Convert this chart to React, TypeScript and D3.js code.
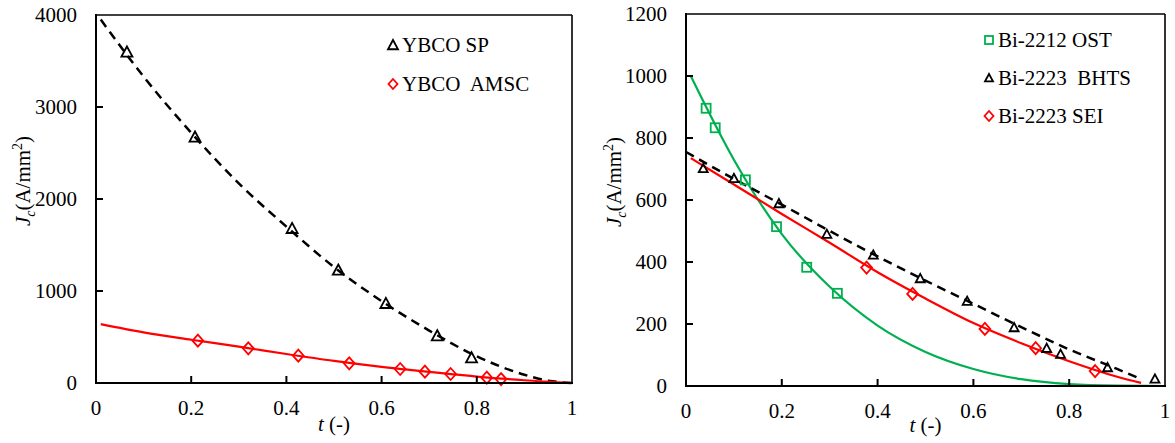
import React from "react";
import * as d3 from "d3";

// ---------- Data ----------
// Left panel: YBCO
const spT = [0.065, 0.208, 0.412, 0.509, 0.609, 0.717, 0.789];
const spJ = [3598, 2674, 1681, 1228, 866, 514, 275];
const spFitT = [0.01, 0.1, 0.2, 0.3, 0.4, 0.5, 0.6, 0.7, 0.8, 0.9, 0.95, 1.0];
const spFitJ = [3950, 3330, 2720, 2170, 1700, 1260, 890, 570, 290, 90, 25, 0];

const amscT = [0.214, 0.32, 0.425, 0.532, 0.639, 0.691, 0.745, 0.821, 0.851];
const amscJ = [460, 377, 297, 214, 152, 123, 98, 58, 43];
const amscFitT = [0.01, 0.1, 0.2, 0.3, 0.4, 0.5, 0.6, 0.7, 0.8, 0.9, 1.0];
const amscFitJ = [640, 550, 470, 395, 315, 240, 175, 120, 70, 30, 0];

// Right panel: Bi-2212 / Bi-2223
const ostT = [0.042, 0.061, 0.124, 0.189, 0.252, 0.316];
const ostJ = [896, 833, 665, 514, 383, 299];
const ostFitT = [0.01, 0.1, 0.2, 0.3, 0.4, 0.5, 0.6, 0.7, 0.8, 0.9, 1.0];
const ostFitJ = [1000, 730, 490, 320, 195, 110, 55, 22, 6, 1, 0];

const bhtsT = [0.036, 0.1, 0.194, 0.294, 0.391, 0.489, 0.587, 0.685, 0.753, 0.782, 0.88, 0.979];
const bhtsJ = [702, 670, 589, 490, 423, 347, 274, 189, 122, 103, 60, 23];
const bhtsFitT = [0.0, 0.1, 0.2, 0.3, 0.4, 0.5, 0.6, 0.7, 0.8, 0.9, 0.95];
const bhtsFitJ = [755, 668, 585, 500, 418, 340, 265, 190, 118, 55, 22];

const seiT = [0.377, 0.473, 0.624, 0.73, 0.854];
const seiJ = [382, 297, 184, 122, 48];
const seiFitT = [0.01, 0.1, 0.2, 0.3, 0.4, 0.5, 0.6, 0.7, 0.8, 0.9, 0.95];
const seiFitJ = [735, 650, 555, 462, 367, 282, 203, 138, 80, 30, 10];

const xTicks = [0, 0.2, 0.4, 0.6, 0.8, 1];
const xTickLabels = ["0", "0.2", "0.4", "0.6", "0.8", "1"];
const leftYTicks = [0, 1000, 2000, 3000, 4000];
const rightYTicks = [0, 200, 400, 600, 800, 1000, 1200];

const leftLegend = ["YBCO SP", "YBCO  AMSC"];
const rightLegend = ["Bi-2212 OST", "Bi-2223  BHTS", "Bi-2223 SEI"];

const FONT = "'Liberation Serif', 'Times New Roman', serif";
const RED = "#ff0000";
const GREEN = "#00b050";

type Marker = "tri" | "dia" | "sq";

function MarkerShape({ kind, x, y, size, color }: { kind: Marker; x: number; y: number; size: number; color: string }) {
  const h = size / 2;
  if (kind === "tri") {
    const p = `${x},${y - h} ${x + h},${y + h * 0.85} ${x - h},${y + h * 0.85}`;
    return <polygon points={p} fill="none" stroke={color} strokeWidth={1.8} strokeLinejoin="miter" />;
  }
  if (kind === "dia") {
    const hw = h * 0.9;
    const p = `${x},${y - h} ${x + hw},${y} ${x},${y + h} ${x - hw},${y}`;
    return <polygon points={p} fill="none" stroke={color} strokeWidth={1.8} />;
  }
  return <rect x={x - h} y={y - h} width={size} height={size} fill="none" stroke={color} strokeWidth={1.8} />;
}

type Series = {
  t: number[];
  j: number[];
  fitT: number[];
  fitJ: number[];
  color: string;
  marker: Marker;
  size: number;
  dashed?: boolean;
  lineWidth: number;
};

function Panel({
  x0, x1, yTop, yBot, yMax, yTicks, series, labelX, labelY, tLabelY, legend, legendX, legendY0, legendDy, legendSizes,
}: {
  x0: number; x1: number; yTop: number; yBot: number; yMax: number; yTicks: number[]; series: Series[];
  labelX: number; labelY: number; tLabelY: number; legend: string[]; legendX: number; legendY0: number; legendDy: number;
  legendSizes: number[];
}) {
  const xs = d3.scaleLinear().domain([0, 1]).range([x0, x1]);
  const ys = d3.scaleLinear().domain([0, yMax]).range([yBot, yTop]);
  const line = d3
    .line<[number, number]>()
    .x((d) => xs(d[0]))
    .y((d) => ys(d[1]))
    .curve(d3.curveMonotoneX);
  return (
    <g>
      {series.map((s, i) => (
        <path
          key={"fit" + i}
          d={line(s.fitT.map((t, k) => [t, s.fitJ[k]] as [number, number])) || ""}
          fill="none"
          stroke={s.color}
          strokeWidth={s.lineWidth}
          strokeDasharray={s.dashed ? "9,6" : undefined}
        />
      ))}
      {series.map((s, i) =>
        s.t.map((t, k) => (
          <MarkerShape key={"m" + i + "_" + k} kind={s.marker} x={xs(t)} y={ys(s.j[k])} size={s.size} color={s.color} />
        ))
      )}
      {/* frame */}
      <line x1={x0} x2={x1} y1={yTop} y2={yTop} stroke="#000" strokeWidth={1.6} />
      <line x1={x1} x2={x1} y1={yTop} y2={yBot} stroke="#000" strokeWidth={1.6} />
      <line x1={x0} x2={x0} y1={yTop - 1} y2={yBot + 1} stroke="#000" strokeWidth={2} />
      <line x1={x0 - 1} x2={x1 + 1} y1={yBot} y2={yBot} stroke="#000" strokeWidth={2} />
      {/* y ticks */}
      {yTicks.map((v) => (
        <g key={"yt" + v}>
          {v > 0 && v < yMax && <line x1={x0} x2={x0 + 7} y1={ys(v)} y2={ys(v)} stroke="#000" strokeWidth={2} />}
          <text x={x0 - 19} y={ys(v)} dy="0.35em" textAnchor="end" fontSize={21} fontFamily={FONT}>
            {v}
          </text>
        </g>
      ))}
      {/* x ticks */}
      {xTicks.map((v, i) => (
        <g key={"xt" + v}>
          {v > 0 && v < 1 && <line x1={xs(v)} x2={xs(v)} y1={yBot} y2={yBot - 7} stroke="#000" strokeWidth={2} />}
          <text x={xs(v)} y={yBot + 32} textAnchor="middle" fontSize={21} fontFamily={FONT}>
            {xTickLabels[i]}
          </text>
        </g>
      ))}
      {/* axis titles */}
      <text x={(x0 + x1) / 2} y={tLabelY} textAnchor="middle" fontSize={21} fontFamily={FONT}>
        <tspan fontStyle="italic">t</tspan>
        <tspan> (-)</tspan>
      </text>
      <text transform={`translate(${labelX},${labelY}) rotate(-90)`} textAnchor="middle" fontSize={21} fontFamily={FONT}>
        <tspan fontStyle="italic">J</tspan>
        <tspan fontStyle="italic" fontSize={14} dy={5}>c</tspan>
        <tspan dy={-5}>(A/mm</tspan>
        <tspan fontSize={14} dy={-8}>2</tspan>
        <tspan dy={8}>)</tspan>
      </text>
      {/* legend */}
      {legend.map((name, i) => {
        const s = series[i];
        const cy = legendY0 + i * legendDy;
        return (
          <g key={"lg" + i}>
            <MarkerShape kind={s.marker} x={legendX} y={cy - 7} size={legendSizes[i]} color={s.color} />
            <text x={legendX + 9} y={cy} fontSize={21} fontFamily={FONT} style={{ whiteSpace: "pre" }}>
              {name}
            </text>
          </g>
        );
      })}
    </g>
  );
}

export default function App() {
  const leftSeries: Series[] = [
    { t: spT, j: spJ, fitT: spFitT, fitJ: spFitJ, color: "#000", marker: "tri", size: 11, dashed: true, lineWidth: 2.5 },
    { t: amscT, j: amscJ, fitT: amscFitT, fitJ: amscFitJ, color: RED, marker: "dia", size: 12, lineWidth: 2.2 },
  ];
  const rightSeries: Series[] = [
    { t: ostT, j: ostJ, fitT: ostFitT, fitJ: ostFitJ, color: GREEN, marker: "sq", size: 9, lineWidth: 2.2 },
    { t: bhtsT, j: bhtsJ, fitT: bhtsFitT, fitJ: bhtsFitJ, color: "#000", marker: "tri", size: 9, dashed: true, lineWidth: 2.5 },
    { t: seiT, j: seiJ, fitT: seiFitT, fitJ: seiFitJ, color: RED, marker: "dia", size: 12, lineWidth: 2.2 },
  ];
  return (
    <svg
      width={1175}
      height={443}
      style={{ position: "absolute", left: 0, top: 0, display: "block", background: "#fff" }}
    >
      <Panel
        x0={96} x1={572} yTop={15} yBot={383} yMax={4000} yTicks={leftYTicks} series={leftSeries}
        labelX={30} labelY={181} tLabelY={431} legend={leftLegend} legendX={393} legendY0={52} legendDy={39}
        legendSizes={[10, 10]}
      />
      <Panel
        x0={686} x1={1165} yTop={14} yBot={386} yMax={1200} yTicks={rightYTicks} series={rightSeries}
        labelX={621} labelY={182} tLabelY={432} legend={rightLegend} legendX={989} legendY0={47} legendDy={38}
        legendSizes={[8, 8, 10]}
      />
    </svg>
  );
}
